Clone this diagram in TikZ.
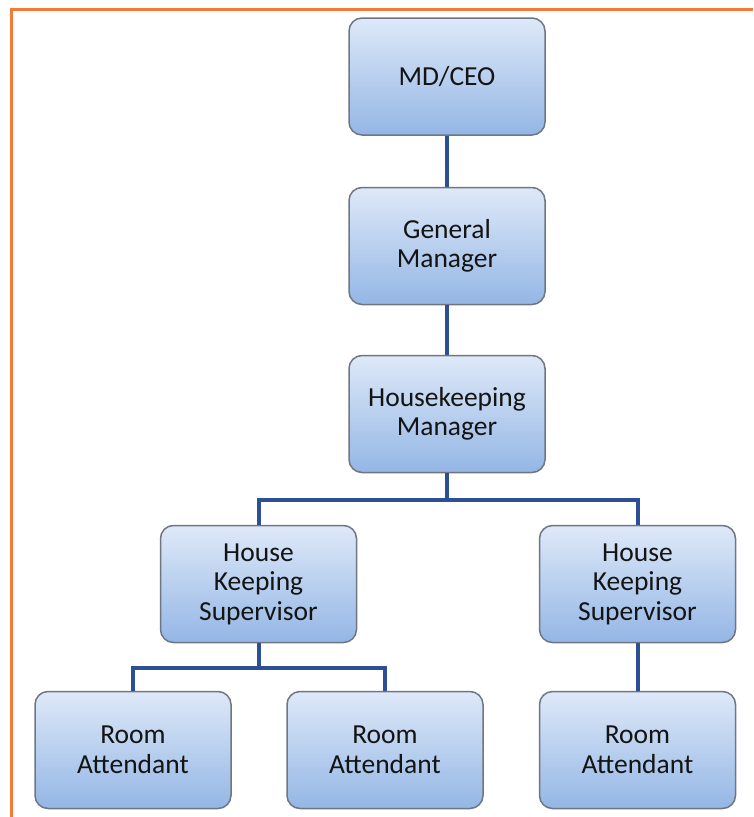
\documentclass[tikz,border=0pt]{standalone}
\usepackage{fontspec}
\setmainfont{Carlito}
\usepackage{xcolor}
\definecolor{boxtop}{RGB}{222,233,248}
\definecolor{boxbot}{RGB}{148,182,229}
\definecolor{boxline}{RGB}{110,118,130}
\definecolor{linkblue}{RGB}{44,80,150}
\definecolor{frameorange}{RGB}{244,122,58}
\definecolor{txt}{RGB}{20,20,20}

\begin{document}
\begin{tikzpicture}[
    x=1pt, y=-1pt,
    font=\fontsize{27.5}{29.5}\selectfont,
    post/.style={draw=boxline, line width=1.5pt, rounded corners=13pt,
        top color=boxtop, bottom color=boxbot, text=txt,
        minimum width=196pt, minimum height=117pt, align=center},
    link/.style={draw=linkblue, line width=4pt},
]
\useasboundingbox (0,0) rectangle (753,817);

% Frame
\draw[frameorange, line width=3pt] (11,817) -- (11,9) -- (753,9);

% Posts
\node[post] (ceo) at (447, 76.5) {MD/CEO};
\node[post] (gm)  at (447, 246) {General\\Manager};
\node[post] (hm)  at (447, 414) {Housekeeping\\Manager};

\node[post] (supl) at (258.5, 584) {House\\Keeping\\Supervisor};
\node[post] (supr) at (637.5, 584) {House\\Keeping\\Supervisor};

\node[post] (ral) at (133, 750) {Room\\Attendant};
\node[post] (ram) at (385, 750) {Room\\Attendant};
\node[post] (rar) at (637.5, 750) {Room\\Attendant};

% Links
\draw[link] (ceo.south) -- (gm.north);
\draw[link] (gm.south) -- (hm.north);
\draw[link] (hm.south) -- ++(0,27) -| (supl.north);
\draw[link] (hm.south) -- ++(0,27) -| (supr.north);
\draw[link] (supl.south) -- ++(0,25) -| (ral.north);
\draw[link] (supl.south) -- ++(0,25) -| (ram.north);
\draw[link] (supr.south) -- (rar.north);

\end{tikzpicture}
\end{document}
